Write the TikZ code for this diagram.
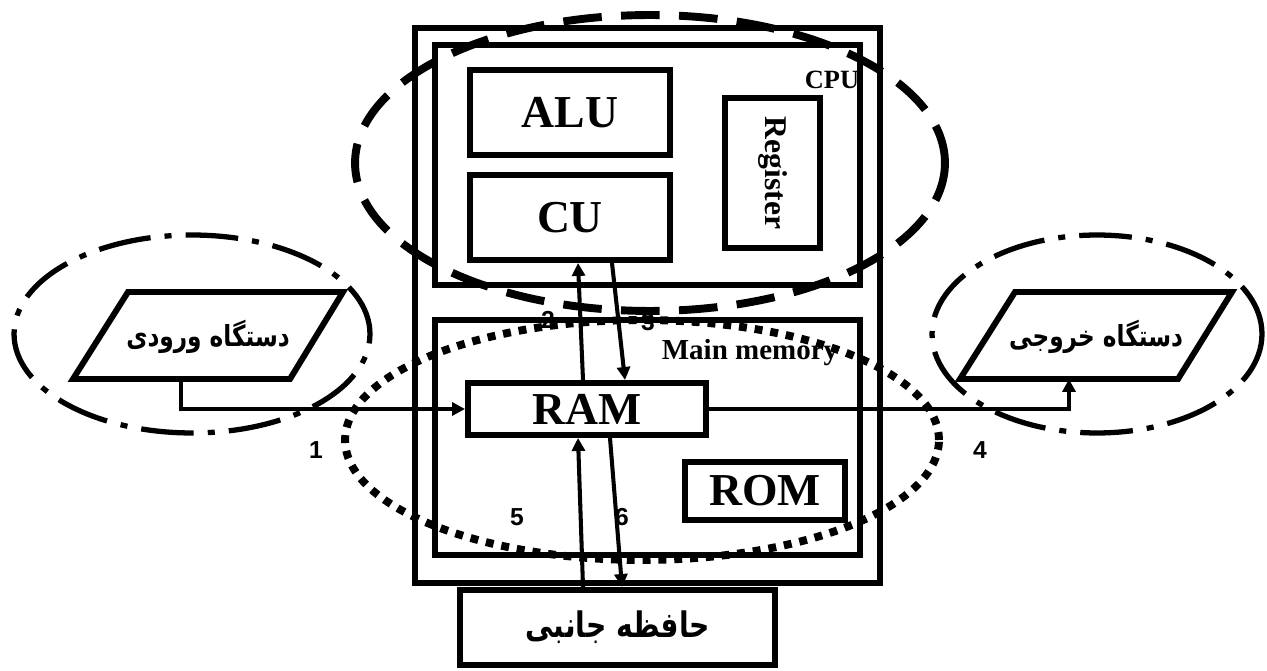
\documentclass[tikz,border=0pt]{standalone}
\usepackage{fontspec}
\setmainfont{Liberation Serif}
\newfontfamily\arabicfont[Script=Arabic, FakeStretch=0.8]{DejaVu Sans}
\newfontfamily\numfont{Liberation Sans}
\TeXXeTstate=1
\usetikzlibrary{arrows.meta}

\begin{document}
\begin{tikzpicture}[x=0.02cm, y=-0.02cm, >={Triangle[length=2.6mm, width=2.6mm]},
  box/.style={draw, line width=3.4pt, inner sep=0pt},
  lat/.style={font=\fontsize{26}{28}\selectfont\bfseries},
  pers/.style={font=\fontsize{16.5}{20}\selectfont\arabicfont\bfseries},
  num/.style={font=\fontsize{14}{16}\selectfont\numfont\bfseries},
  link/.style={->, line width=2.3pt}]
\useasboundingbox (0,0) rectangle (1267,671);

	% computer case and its parts
	\node[box, minimum width=9.3cm, minimum height=11.1cm] (sys) at (647.5,305.5) {};
	\node[box, minimum width=8.5cm, minimum height=4.8cm] (cpu) at (647.5,165) {};
	\node[box, lat, minimum width=4cm, minimum height=1.7cm] (alu) at (570,112.5) {ALU};
	\node[box, lat, minimum width=4cm, minimum height=1.7cm] (cu) at (570,217.5) {CU};
	\node[box, minimum width=1.9cm, minimum height=3cm] (reg) at (772.5,173) {};
	\node[font=\fontsize{18}{20}\selectfont\bfseries, rotate=-90] (regtxt) at (reg) {Register};
	\node[font=\fontsize{15}{17}\selectfont\bfseries] (cputxt) at (832,80) {CPU};
	\node[box, minimum width=8.5cm, minimum height=4.7cm] (mem) at (647.5,437.5) {};
	\node[font=\fontsize{16.5}{18}\selectfont\bfseries] (memtxt) at (750,353) {Main memory};
	\node[box, lat, minimum width=4.76cm, minimum height=1.04cm] (ram) at (587,409) {RAM};
	\node[box, lat, minimum width=3.2cm, minimum height=1.16cm] (rom) at (765,491) {ROM};
	\node[box, minimum width=6.3cm, minimum height=1.5cm, font=\fontsize{20}{24}\selectfont\arabicfont\bfseries] (sec) at (617.5,627.5) {\beginR حافظه جانبی\endR};

	% input and output devices
	\draw[line width=3.4pt] (73,379) -- (128,292) -- (343,292) -- (290,379) -- cycle;
	\node[pers] (inp) at (208,337) {\beginR دستگاه ورودی\endR};
	\coordinate (inpb) at (181,379);
	\draw[line width=3.4pt] (960,379) -- (1015,292) -- (1232,292) -- (1178,379) -- cycle;
	\node[pers] (outp) at (1096,337) {\beginR دستگاه خروجی\endR};
	\coordinate (outb) at (1069,379);

	% data paths
	\draw[link] (inpb) |- (ram.west);
	\draw[link] (ram.east) -| (outb);
	\draw[link] ([xshift=-0.08cm]ram.north) -- ([xshift=0.16cm]cu.south);
	\draw[link] ([xshift=0.84cm]cu.south) -- ([xshift=0.76cm]ram.north);
	\draw[link] ([xshift=-0.69cm]sec.north) -- ([xshift=-0.18cm]ram.south);
	\draw[link] ([xshift=0.46cm]ram.south) -- ([xshift=0.09cm]sec.north);

	\node[num] (n1) at (316,450) {1};
	\node[num] (n2) at (548,320) {2};
	\node[num] (n3) at (648,322) {3};
	\node[num] (n4) at (980,450) {4};
	\node[num] (n5) at (517,517) {5};
	\node[num] (n6) at (622,517) {6};

	% groupings
	\draw[line width=4.5pt, dash pattern=on 22pt off 11pt] (650,163) ellipse [x radius=5.9cm, y radius=2.96cm];
	\draw[line width=3pt, dash pattern=on 30pt off 8pt on 4pt off 8pt] (192,334) ellipse [x radius=3.56cm, y radius=1.98cm];
	\draw[line width=3pt, dash pattern=on 30pt off 8pt on 4pt off 8pt] (1097,334) ellipse [x radius=3.3cm, y radius=1.98cm];
	\draw[line width=4.5pt, dash pattern=on 4.5pt off 4.5pt] (642,440) ellipse [x radius=5.94cm, y radius=2.4cm];
\end{tikzpicture}
\end{document}
